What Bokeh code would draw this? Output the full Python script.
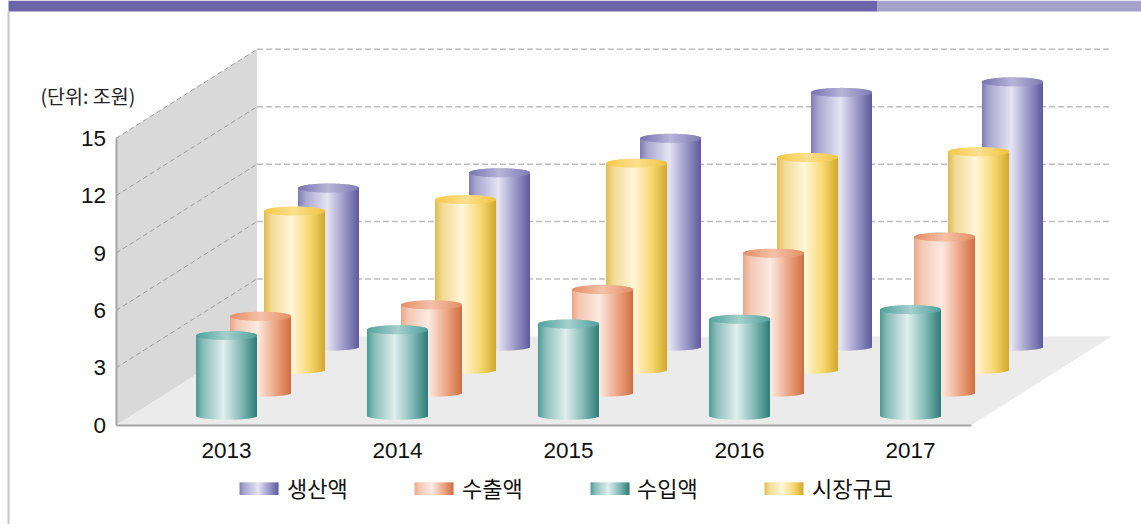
from bokeh.plotting import figure
from bokeh.models import ColumnDataSource, FixedTicker
from bokeh.core.properties import value
from bokeh.embed import file_html
from bokeh.resources import INLINE

years = ["2013", "2014", "2015", "2016", "2017"]
production = [8.3, 9.1, 10.9, 13.3, 13.85]     # 생산액
exports = [4.0, 4.6, 5.4, 7.3, 8.15]           # 수출액
imports = [4.2, 4.5, 4.8, 5.05, 5.55]          # 수입액
market = [8.3, 8.9, 10.8, 11.1, 11.4]          # 시장규모
y_ticks = [0, 3, 6, 9, 12, 15]
legend_labels = ["생산액", "수출액", "수입액", "시장규모"]
unit_label = "(단위: 조원)"

W, H = 1141, 524
X0, STEP = 226.0, 171.0     # pixel of the first group, pixels per group
Y0, UNIT = 424.8, 19.13     # pixel of value 0 at the front, pixels per unit
DEPTH_X, DEPTH_Y = 141.0, 89.0
AXIS_L, AXIS_R = 115.5, 970.5
RADIUS, ELL = 30.5, 4.5
SER_DX, SER_DY = 34.0, 23.0
BASE_FRONT = 9.5

def dx(px): return (px - X0) / STEP
def dy(py): return (Y0 - py) / UNIT

def mix(stops, t):
    for (t0, c0), (t1, c1) in zip(stops, stops[1:]):
        if t <= t1:
            f = (t - t0) / (t1 - t0)
            a = [int(c0[i:i + 2], 16) for i in (1, 3, 5)]
            b = [int(c1[i:i + 2], 16) for i in (1, 3, 5)]
            return "#%02x%02x%02x" % tuple(round(u + (v - u) * f) for u, v in zip(a, b))
    return stops[-1][1]

PURPLE = dict(
    body=[(0, "#7f7bb4"), (.12, "#a9a6d0"), (.48, "#e5e4f2"), (.72, "#a5a2cd"), (1, "#5d599e")],
    top=[(0, "#7672ae"), (.5, "#b7b5d8"), (1, "#7e7ab4")])
ORANGE = dict(
    body=[(0, "#e8a688"), (.12, "#f3c8b3"), (.45, "#fceae1"), (.75, "#eca583"), (1, "#cf6e40")],
    top=[(0, "#e58d64"), (.5, "#f4c1a8"), (1, "#e58d64")])
TEAL = dict(
    body=[(0, "#4c9a94"), (.12, "#88bdb9"), (.45, "#e0efee"), (.75, "#7fb8b4"), (1, "#2e7d76")],
    top=[(0, "#4fa09a"), (.5, "#a5d0cd"), (1, "#4fa09a")])
YELLOW = dict(
    body=[(0, "#dfbb50"), (.12, "#f2da94"), (.45, "#fff6da"), (.75, "#f7d86f"), (1, "#d2a82b")],
    top=[(0, "#f4c845"), (.5, "#fbe08e"), (1, "#f0c440")])

p = figure(width=W, height=H, x_range=(dx(0), dx(W)), y_range=(dy(H), dy(0)),
           toolbar_location=None, output_backend="svg", min_border=0,
           outline_line_color=None, background_fill_color="white")
p.grid.visible = False


def strips(rows):
    s = ColumnDataSource(dict(
        left=[r[0] for r in rows], right=[r[1] for r in rows],
        top=[r[2] for r in rows], bottom=[r[3] for r in rows], color=[r[4] for r in rows]))
    p.quad(left="left", right="right", top="top", bottom="bottom", source=s,
           fill_color="color", line_color=None)


# page frame
p.quad(left=[dx(8)], right=[dx(877)], top=[dy(0)], bottom=[dy(11)], fill_color="#6c64a9", line_color=None)
p.quad(left=[dx(877)], right=[dx(W)], top=[dy(0)], bottom=[dy(11)], fill_color="#a2a2ca", line_color=None)
p.segment(x0=[dx(8)], x1=[dx(8)], y0=[dy(11)], y1=[dy(H)], line_color="#c4c4c4", line_width=2)

# wall, floor and their grid lines
top = max(y_ticks)
xl, xb = dx(AXIS_L), dx(AXIS_L + DEPTH_X)
back = DEPTH_Y / UNIT
p.patch([xl, xb, xb, xl], [top, top + back, back, 0], fill_color="#d9d9d9", line_color=None)
p.patch([xl, xb, dx(AXIS_R + DEPTH_X), dx(AXIS_R)], [0, back, back, 0], fill_color="#ebebeb", line_color=None)
grid = [t for t in y_ticks if t > 0]
p.segment(x0=[xl] * len(grid), x1=[xb] * len(grid), y0=grid, y1=[t + back for t in grid],
          line_color="#9c9c9c", line_width=1, line_dash="5 3")
p.segment(x0=[xb] * len(grid), x1=[dx(AXIS_R + DEPTH_X)] * len(grid),
          y0=[t + back for t in grid], y1=[t + back for t in grid],
          line_color="#bdbdbd", line_width=1.5, line_dash="6 3")

# cylinders, back row first
rows_by_depth = [(3, production, PURPLE), (2, market, YELLOW), (1, exports, ORANGE), (0, imports, TEAL)]
for depth, vals, pal in rows_by_depth:
    rows_body, rows_top = [], []
    for i, v in enumerate(vals):
        cx = X0 + STEP * i + SER_DX * depth
        base = (BASE_FRONT + SER_DY * depth) / UNIT
        n = int(2 * RADIUS)
        for k in range(n):
            a = cx - RADIUS + k
            b = min(a + 1.6, cx + RADIUS)
            m = (k + .5) / n
            u = 2 * m - 1
            h = (1 - u * u) ** .5
            rows_body.append((dx(a), dx(b), base + v, base - ELL * .85 * h / UNIT, mix(pal["body"], m)))
            rows_top.append((dx(a), dx(b), base + v + ELL * h / UNIT, base + v - ELL * h / UNIT, mix(pal["top"], m)))
    strips(rows_body + rows_top)

# axes
xa, ya = p.xaxis[0], p.yaxis[0]
xa.fixed_location = 0
ya.fixed_location = xl
xa.ticker = FixedTicker(ticks=list(range(len(years))))
xa.major_label_overrides = {i: y for i, y in enumerate(years)}
ya.ticker = FixedTicker(ticks=y_ticks)
xa.bounds = (xl, dx(AXIS_R))
ya.bounds = (0, top)
for ax in (xa, ya):
    ax.axis_line_color = "#a6a6a6"
    ax.axis_line_width = 2
    ax.major_tick_line_color = None
    ax.minor_tick_line_color = None
    ax.major_label_text_font = "Liberation Sans"
    ax.major_label_text_color = "#111111"
xa.major_label_text_font_size = "22.5px"
ya.major_label_text_font_size = "22.5px"
xa.major_label_standoff = 12
ya.major_label_standoff = 4

# unit label
p.text(x=[dx(40)], y=[dy(95)], text=[unit_label], text_font=value("Noto Sans CJK KR"),
       text_font_size="19.5px", text_baseline="middle", text_color="#222222")

# legend
swatch_x = [239, 414, 590, 764]
label_x = [286.5, 461.5, 636.5, 811.5]
for sx, lx, lab, pal in zip(swatch_x, label_x, legend_labels, (PURPLE, ORANGE, TEAL, YELLOW)):
    strips([(dx(sx + k), dx(sx + min(k + 1.6, 39)), dy(482), dy(494.5), mix(pal["body"], (k + .5) / 39)) for k in range(39)])
    p.text(x=[dx(lx)], y=[dy(486.5)], text=[lab], text_font=value("Noto Sans CJK KR"),
           text_font_size="22px", text_baseline="middle", text_color="#111111")

open("out.html", "w").write(file_html(p, INLINE))
